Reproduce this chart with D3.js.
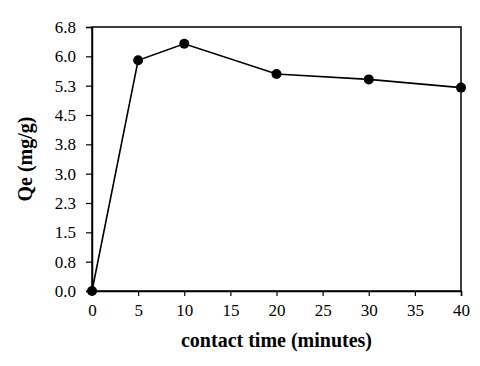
<!DOCTYPE html>
<html><head><meta charset="utf-8">
<script src="https://cdn.jsdelivr.net/npm/d3@7"></script>
<style>body{margin:0;background:#fff}svg{display:block}</style>
</head><body>
<script>
const times = [0, 5, 10, 20, 30, 40];
const qe = [0, 5.90, 6.32, 5.55, 5.41, 5.20];
const yTicks = [0, 0.75, 1.5, 2.25, 3.0, 3.75, 4.5, 5.25, 6.0, 6.75];
const xTicks = [0, 5, 10, 15, 20, 25, 30, 35, 40];

const W = 480, H = 366;
const m = {left: 92, right: 19, top: 27, bottom: 75};
const svg = d3.select("body").append("svg").attr("width", W).attr("height", H);
const x = d3.scaleLinear().domain([0, 40]).range([m.left, W - m.right]);
const y = d3.scaleLinear().domain([0, 6.75]).range([H - m.bottom, m.top]);
const font = "Liberation Serif, DejaVu Serif, serif";

svg.append("rect").attr("x", x(0)).attr("y", y(6.75))
  .attr("width", x(40) - x(0)).attr("height", y(0) - y(6.75))
  .attr("fill", "none").attr("stroke", "#000").attr("stroke-width", 1.5);

const gx = svg.append("g").attr("transform", `translate(0,${y(0)})`)
  .call(d3.axisBottom(x).tickValues(xTicks).tickSize(5).tickPadding(8).tickFormat(d3.format("d")));
const gy = svg.append("g").attr("transform", `translate(${x(0)},0)`)
  .call(d3.axisLeft(y).tickValues(yTicks).tickSize(6).tickPadding(10).tickFormat(d3.format(".1f")));
[gx, gy].forEach(g => {
  g.attr("font-family", font).attr("font-size", 17);
  g.select(".domain").attr("stroke-width", 1.5);
  g.selectAll(".tick line").attr("stroke-width", 1.2);
  g.selectAll("text").attr("fill", "#000");
});

const line = d3.line().x((d, i) => x(times[i])).y(d => y(d));
svg.append("path").datum(qe).attr("d", line).attr("fill", "none")
  .attr("stroke", "#000").attr("stroke-width", 1.6);
svg.selectAll("circle.pt").data(qe).enter().append("circle")
  .attr("cx", (d, i) => x(times[i])).attr("cy", d => y(d)).attr("r", 5).attr("fill", "#000");

svg.append("text").attr("x", (x(0) + x(40)) / 2).attr("y", 347)
  .attr("text-anchor", "middle").attr("font-family", font).attr("font-weight", "bold")
  .attr("font-size", 20).text("contact time (minutes)");
svg.append("text").attr("transform", `translate(32,${(y(0) + y(6.75)) / 2}) rotate(-90)`)
  .attr("text-anchor", "middle").attr("font-family", font).attr("font-weight", "bold")
  .attr("font-size", 20).text("Qe (mg/g)");
</script>
</body></html>
